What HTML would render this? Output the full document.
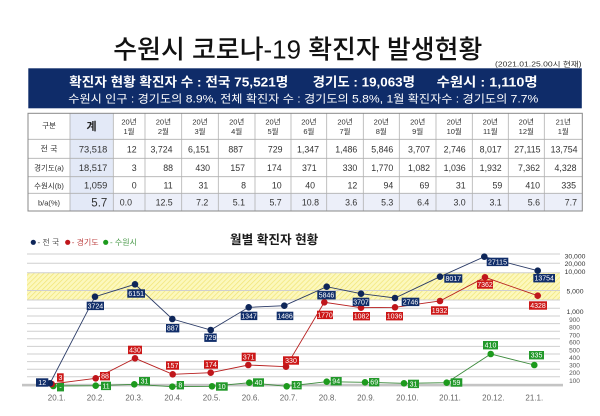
<!DOCTYPE html>
<html><head><meta charset="utf-8">
<style>
html,body{margin:0;padding:0;background:#fff;}
svg{display:block;}
text{font-family:"Liberation Sans","Noto Sans CJK KR",sans-serif;}
</style></head>
<body>
<svg width="600" height="416" viewBox="0 0 600 416" xmlns="http://www.w3.org/2000/svg">
<defs>
<pattern id="hatch" width="3.5" height="3.5" patternUnits="userSpaceOnUse" patternTransform="rotate(45)">
<rect width="3.5" height="3.5" fill="#fcf8bd"/>
<line x1="0" y1="0" x2="0" y2="3.5" stroke="#f1e474" stroke-width="1.4"/>
</pattern>
</defs>
<rect width="600" height="416" fill="#fff"/>

<!-- Title -->
<text x="113.3" y="58.5" font-size="26" font-weight="500" fill="#111" textLength="369" lengthAdjust="spacingAndGlyphs">수원시 코로나-19 확진자 발생현황</text>
<text x="495" y="66.5" font-size="7" fill="#333" font-family="Liberation Serif, Noto Serif CJK SC, serif" textLength="86.5" lengthAdjust="spacingAndGlyphs">(2021.01.25.00시 현재)</text>

<!-- Navy box -->
<rect x="28.3" y="68.3" width="553.5" height="40" fill="#0f2c69"/>
<g fill="#fff" font-weight="bold" font-size="13">
<text x="69.3" y="86.3" textLength="219" lengthAdjust="spacingAndGlyphs">확진자 현황 확진자 수 : 전국 75,521명</text>
<text x="312.7" y="86.3" textLength="102.3" lengthAdjust="spacingAndGlyphs">경기도 : 19,063명</text>
<text x="436.7" y="86.3" textLength="101" lengthAdjust="spacingAndGlyphs">수원시 :  1,110명</text>
</g>
<text x="68.3" y="102.7" fill="#fff" font-size="11" textLength="470" lengthAdjust="spacingAndGlyphs">수원시 인구 : 경기도의 8.9%, 전체 확진자 수 : 경기도의 5.8%, 1월 확진자수 : 경기도의 7.7%</text>

<!-- Table backgrounds -->
<rect x="70" y="113.3" width="43.3" height="97.7" fill="#e3e9f7"/>
<rect x="113.3" y="193.3" width="469" height="17.7" fill="#eceff9"/>
<!-- Table lines -->
<g stroke="#b0b0b0" stroke-width="0.8">
<line x1="28" y1="139.3" x2="582.3" y2="139.3"/>
<line x1="28" y1="158.3" x2="582.3" y2="158.3"/>
<line x1="28" y1="176.7" x2="582.3" y2="176.7"/>
<line x1="28" y1="193.3" x2="582.3" y2="193.3"/>
<line x1="70" y1="113.3" x2="70" y2="211"/>
<line x1="113.3" y1="113.3" x2="113.3" y2="211"/>
<line x1="145" y1="113.3" x2="145" y2="211"/>
<line x1="181.7" y1="113.3" x2="181.7" y2="211"/>
<line x1="218.3" y1="113.3" x2="218.3" y2="211"/>
<line x1="255" y1="113.3" x2="255" y2="211"/>
<line x1="291" y1="113.3" x2="291" y2="211"/>
<line x1="326.7" y1="113.3" x2="326.7" y2="211"/>
<line x1="363.3" y1="113.3" x2="363.3" y2="211"/>
<line x1="399.3" y1="113.3" x2="399.3" y2="211"/>
<line x1="436" y1="113.3" x2="436" y2="211"/>
<line x1="472.3" y1="113.3" x2="472.3" y2="211"/>
<line x1="508.3" y1="113.3" x2="508.3" y2="211"/>
<line x1="544.3" y1="113.3" x2="544.3" y2="211"/>
</g>
<rect x="28" y="113.3" width="554.3" height="97.7" fill="none" stroke="#888" stroke-width="1"/>

<!-- Table header -->
<g font-size="7.5" fill="#333" text-anchor="middle">
<text x="49" y="128">구분</text>
<text x="129" y="124.5">20년</text><text x="129" y="134">1월</text>
<text x="163.4" y="124.5">20년</text><text x="163.4" y="134">2월</text>
<text x="200" y="124.5">20년</text><text x="200" y="134">3월</text>
<text x="236.7" y="124.5">20년</text><text x="236.7" y="134">4월</text>
<text x="273" y="124.5">20년</text><text x="273" y="134">5월</text>
<text x="308.9" y="124.5">20년</text><text x="308.9" y="134">6월</text>
<text x="345" y="124.5">20년</text><text x="345" y="134">7월</text>
<text x="381.3" y="124.5">20년</text><text x="381.3" y="134">8월</text>
<text x="417.7" y="124.5">20년</text><text x="417.7" y="134">9월</text>
<text x="454.2" y="124.5">20년</text><text x="454.2" y="134">10월</text>
<text x="490.3" y="124.5">20년</text><text x="490.3" y="134">11월</text>
<text x="526.3" y="124.5">20년</text><text x="526.3" y="134">12월</text>
<text x="563.3" y="124.5">21년</text><text x="563.3" y="134">1월</text>
<text x="49" y="151.5" font-size="8">전  국</text>
<text x="49" y="170.5">경기도(a)</text>
<text x="49" y="188.5">수원시(b)</text>
<text x="49" y="205.5">b/a(%)</text>
</g>
<text x="91.6" y="130" font-size="11" font-weight="bold" fill="#222" text-anchor="middle">계</text>

<!-- Table data -->
<g font-size="8.8" fill="#333" text-anchor="end">
<text x="107.3" y="152.3" font-size="9.3">73,518</text>
<text x="136.7" y="152.3">12</text><text x="172.5" y="152.3">3,724</text><text x="210" y="152.3">6,151</text><text x="243" y="152.3">887</text><text x="282.5" y="152.3">729</text><text x="319" y="152.3">1,347</text><text x="357.3" y="152.3">1,486</text><text x="393.3" y="152.3">5,846</text><text x="430" y="152.3">3,707</text><text x="465.7" y="152.3">2,746</text><text x="501.7" y="152.3">8,017</text><text x="540.5" y="152.3">27,115</text><text x="577.5" y="152.3">13,754</text>

<text x="107.3" y="171" font-size="9.3">18,517</text>
<text x="136.7" y="171">3</text><text x="173" y="171">88</text><text x="210" y="171">430</text><text x="245" y="171">157</text><text x="281.7" y="171">174</text><text x="316.7" y="171">371</text><text x="357.3" y="171">330</text><text x="393.3" y="171">1,770</text><text x="430" y="171">1,082</text><text x="465.7" y="171">1,036</text><text x="501.7" y="171">1,932</text><text x="540" y="171">7,362</text><text x="576.5" y="171">4,328</text>

<text x="107.3" y="188.3" font-size="9.3">1,059</text>
<text x="136.7" y="188.3">0</text><text x="172.7" y="188.3">11</text><text x="208.3" y="188.3">31</text><text x="246" y="188.3">8</text><text x="281.7" y="188.3">10</text><text x="315" y="188.3">40</text><text x="357.3" y="188.3">12</text><text x="393.3" y="188.3">94</text><text x="429.3" y="188.3">69</text><text x="465.7" y="188.3">31</text><text x="502.3" y="188.3">59</text><text x="540" y="188.3">410</text><text x="576" y="188.3">335</text>

<text x="107.3" y="206.5" font-size="11.5">5.7</text>
<text x="132" y="205.5">0.0</text><text x="172.7" y="205.5">12.5</text><text x="208.3" y="205.5">7.2</text><text x="245" y="205.5">5.1</text><text x="281.7" y="205.5">5.7</text><text x="319" y="205.5">10.8</text><text x="357.3" y="205.5">3.6</text><text x="393.3" y="205.5">5.3</text><text x="429.3" y="205.5">6.4</text><text x="465.7" y="205.5">3.0</text><text x="501.7" y="205.5">3.1</text><text x="540" y="205.5">5.6</text><text x="577" y="205.5">7.7</text>
</g>

<!-- Legend -->
<circle cx="33.3" cy="242.3" r="2.6" fill="#0e2659"/>
<text x="37.5" y="245" font-size="8" fill="#555">- 전  국</text>
<circle cx="67.7" cy="242.3" r="2.6" fill="#c0161b"/>
<text x="71.7" y="245" font-size="8" fill="#c04848">- 경기도</text>
<circle cx="105.7" cy="242.3" r="2.6" fill="#1d9a1d"/>
<text x="110" y="245" font-size="8" fill="#4a9a4a">- 수원시</text>

<!-- Chart title -->
<text x="230" y="244" font-size="12.5" font-weight="bold" fill="#1a1a1a" textLength="88.3" lengthAdjust="spacingAndGlyphs">월별 확진자 현황</text>

<!-- Yellow band -->
<rect x="27" y="272.7" width="533" height="27.3" fill="url(#hatch)"/>

<!-- Grid -->
<g stroke="#cfcfcf" stroke-width="1">
<line x1="27" y1="254" x2="560" y2="254"/>
<line x1="27" y1="263.3" x2="560" y2="263.3"/>
<line x1="27" y1="272.7" x2="560" y2="272.7"/>
<line x1="27" y1="290.5" x2="560" y2="290.5"/>
<line x1="27" y1="300" x2="560" y2="300"/>
<line x1="27" y1="308.3" x2="560" y2="308.3"/>
<line x1="27" y1="316" x2="560" y2="316"/>
<line x1="27" y1="323.6" x2="560" y2="323.6"/>
<line x1="27" y1="331.2" x2="560" y2="331.2"/>
<line x1="27" y1="338.8" x2="560" y2="338.8"/>
<line x1="27" y1="346.4" x2="560" y2="346.4"/>
<line x1="27" y1="354" x2="560" y2="354"/>
<line x1="27" y1="361.6" x2="560" y2="361.6"/>
<line x1="27" y1="369.2" x2="560" y2="369.2"/>
<line x1="27" y1="376.8" x2="560" y2="376.8"/>
</g>
<rect x="22" y="383.8" width="541" height="2.6" fill="#c4c4c4"/>

<!-- Right axis labels -->
<g font-size="6.8" fill="#333" text-anchor="middle">
<text x="575" y="258.4">30,000</text>
<text x="575" y="266.1">20,000</text>
<text x="575" y="274.1">10,000</text>
<text x="575" y="293.4">5,000</text>
<text x="575" y="314.1">1,000</text>
</g>
<g font-size="6.5" fill="#555" text-anchor="middle">
<text x="574.5" y="322">900</text>
<text x="574.5" y="329.6">800</text>
<text x="574.5" y="337.3">700</text>
<text x="574.5" y="344.7">600</text>
<text x="574.5" y="352.3">500</text>
<text x="574.5" y="360">400</text>
<text x="574.5" y="367.4">300</text>
<text x="574.5" y="375">200</text>
<text x="574.5" y="383">100</text>
</g>

<!-- X labels -->
<g font-size="8" fill="#666" text-anchor="middle">
<text x="56.7" y="400.5">20.1.</text>
<text x="95.7" y="400.5">20.2.</text>
<text x="134.3" y="400.5">20.3.</text>
<text x="173.3" y="400.5">20.4.</text>
<text x="211.7" y="400.5">20.5.</text>
<text x="250.7" y="400.5">20.6.</text>
<text x="288.7" y="400.5">20.7.</text>
<text x="327.7" y="400.5">20.8.</text>
<text x="366" y="400.5">20.9.</text>
<text x="407.3" y="400.5">20.10.</text>
<text x="450" y="400.5">20.11.</text>
<text x="493.3" y="400.5">20.12.</text>
<text x="534.3" y="400.5">21.1.</text>
</g>

<!-- Series lines -->
<polyline fill="none" stroke="#3c8a3c" stroke-width="0.9" points="53.3,386 95.7,385.7 134.3,384.3 172.3,386.7 212,386.3 249.3,382.7 286.7,386.3 326.7,381.7 365,382.3 404,383.3 446.7,382.7 490.7,354 534.3,365"/>
<polyline fill="none" stroke="#b82020" stroke-width="0.9" points="51.7,384 95.7,378.3 135,358.3 172.7,374.3 210.7,372.7 248.3,365 286,366.7 324.3,302.3 361,307.7 395,307.3 440,301 485,277.3 537.7,295.7"/>
<polyline fill="none" stroke="#2a3a66" stroke-width="0.9" points="50,383.3 95,296.7 135,284.3 172.3,319 210.7,330 248.7,307.3 284.3,305.7 326.7,286.7 361,293.7 395,298 440,276.7 484.3,256.7 537.7,270.7"/>

<!-- Dots -->
<g fill="#1d9a1d">
<circle cx="53.3" cy="386" r="3.3"/><circle cx="95.7" cy="385.7" r="3.3"/><circle cx="134.3" cy="384.3" r="3.3"/><circle cx="172.3" cy="386.7" r="3.3"/><circle cx="212" cy="386.3" r="3.3"/><circle cx="249.3" cy="382.7" r="3.3"/><circle cx="286.7" cy="386.3" r="3.3"/><circle cx="326.7" cy="381.7" r="3.3"/><circle cx="365" cy="382.3" r="3.3"/><circle cx="404" cy="383.3" r="3.3"/><circle cx="446.7" cy="382.7" r="3.3"/><circle cx="490.7" cy="354" r="3.3"/><circle cx="534.3" cy="365" r="3.3"/>
</g>
<g fill="#c0161b">
<circle cx="51.7" cy="384" r="3.3"/><circle cx="95.7" cy="378.3" r="3.3"/><circle cx="135" cy="358.3" r="3.3"/><circle cx="172.7" cy="374.3" r="3.3"/><circle cx="210.7" cy="372.7" r="3.3"/><circle cx="248.3" cy="365" r="3.3"/><circle cx="286" cy="366.7" r="3.3"/><circle cx="324.3" cy="302.3" r="3.3"/><circle cx="361" cy="307.7" r="3.3"/><circle cx="395" cy="307.3" r="3.3"/><circle cx="440" cy="301" r="3.3"/><circle cx="485" cy="277.3" r="3.3"/><circle cx="537.7" cy="295.7" r="3.3"/>
</g>
<g fill="#0e2659">
<circle cx="50" cy="383.3" r="3.3"/><circle cx="95" cy="296.7" r="3.3"/><circle cx="135" cy="284.3" r="3.3"/><circle cx="172.3" cy="319" r="3.3"/><circle cx="210.7" cy="330" r="3.3"/><circle cx="248.7" cy="307.3" r="3.3"/><circle cx="284.3" cy="305.7" r="3.3"/><circle cx="326.7" cy="286.7" r="3.3"/><circle cx="361" cy="293.7" r="3.3"/><circle cx="395" cy="298" r="3.3"/><circle cx="440" cy="276.7" r="3.3"/><circle cx="484.3" cy="256.7" r="3.3"/><circle cx="537.7" cy="270.7" r="3.3"/>
</g>

<!-- Navy label boxes -->
<g fill="#112e6a">
<rect x="36" y="378.3" width="12.3" height="8.4"/>
<rect x="86.7" y="301.7" width="17.3" height="8.4"/>
<rect x="127.3" y="289.3" width="17.7" height="8.4"/>
<rect x="166" y="324" width="13.3" height="8.4"/>
<rect x="204.3" y="333.5" width="12.4" height="8.4"/>
<rect x="240.7" y="311.7" width="16.6" height="8.4"/>
<rect x="276.7" y="311.7" width="16.6" height="8.4"/>
<rect x="317.3" y="291" width="18.4" height="8.4"/>
<rect x="352.7" y="297.7" width="16.6" height="8.4"/>
<rect x="401.7" y="297.7" width="17.6" height="8.4"/>
<rect x="444.3" y="274.3" width="18" height="8.4"/>
<rect x="486.7" y="257.7" width="21.6" height="8.4"/>
<rect x="533.3" y="274" width="21.7" height="8.4"/>
</g>
<!-- Red label boxes -->
<g fill="#cc1818">
<rect x="57" y="373.3" width="6.7" height="8.4"/>
<rect x="100" y="372" width="10" height="8.4"/>
<rect x="128" y="345.7" width="14" height="8.4"/>
<rect x="166" y="361.3" width="13" height="8.4"/>
<rect x="204" y="360.3" width="14" height="8.4"/>
<rect x="241.7" y="352.7" width="14" height="8.4"/>
<rect x="283" y="356.3" width="16" height="8.4"/>
<rect x="317" y="310.7" width="16" height="8.4"/>
<rect x="353" y="312" width="17" height="8.4"/>
<rect x="386" y="312" width="17" height="8.4"/>
<rect x="431" y="306.3" width="17" height="8.4"/>
<rect x="477" y="280.3" width="16" height="8.4"/>
<rect x="529" y="301.3" width="18" height="8.4"/>
</g>
<!-- Green label boxes -->
<g fill="#22992a">
<rect x="57" y="383" width="7" height="8.4"/>
<rect x="101" y="381.7" width="10" height="8.4"/>
<rect x="139" y="377" width="11" height="8.4"/>
<rect x="176.7" y="381" width="7.3" height="8.4"/>
<rect x="216" y="382.3" width="11.7" height="8.4"/>
<rect x="253" y="378.3" width="11" height="8.4"/>
<rect x="291.7" y="381" width="10" height="8.4"/>
<rect x="330.7" y="377" width="11" height="8.4"/>
<rect x="369" y="378" width="10.3" height="8.4"/>
<rect x="408" y="379.7" width="11" height="8.4"/>
<rect x="450.7" y="378.3" width="11.6" height="8.4"/>
<rect x="483" y="341" width="15" height="8.4"/>
<rect x="529" y="351" width="15" height="8.4"/>
</g>

<!-- Box texts -->
<g font-size="7" fill="#fff" text-anchor="middle">
<text x="42.2" y="385">12</text>
<text x="95.4" y="308.4">3724</text>
<text x="136.2" y="296">6151</text>
<text x="172.7" y="330.7">887</text>
<text x="210.5" y="340.2">729</text>
<text x="249" y="318.4">1347</text>
<text x="285" y="318.4">1486</text>
<text x="326.5" y="297.7">5846</text>
<text x="361" y="304.4">3707</text>
<text x="410.5" y="304.4">2746</text>
<text x="453.3" y="281">8017</text>
<text x="497.5" y="264.4">27115</text>
<text x="544.2" y="280.7">13754</text>

<text x="60.4" y="380">3</text>
<text x="105" y="378.7">88</text>
<text x="135" y="352.4">430</text>
<text x="172.5" y="368">157</text>
<text x="211" y="367">174</text>
<text x="248.7" y="359.4">371</text>
<text x="291" y="363">330</text>
<text x="325" y="317.4">1770</text>
<text x="361.5" y="318.7">1082</text>
<text x="394.5" y="318.7">1036</text>
<text x="439.5" y="313">1932</text>
<text x="485" y="287">7362</text>
<text x="538" y="308">4328</text>

<text x="60.5" y="389.7">-</text>
<text x="106" y="388.4">11</text>
<text x="144.5" y="383.7">31</text>
<text x="180.3" y="387.7">8</text>
<text x="221.8" y="389">10</text>
<text x="258.5" y="385">40</text>
<text x="296.7" y="387.7">12</text>
<text x="336.2" y="383.7">94</text>
<text x="374.2" y="384.7">69</text>
<text x="413.5" y="386.4">31</text>
<text x="456.5" y="385">59</text>
<text x="490.5" y="347.7">410</text>
<text x="536.5" y="357.7">335</text>
</g>
</svg>
</body></html>
